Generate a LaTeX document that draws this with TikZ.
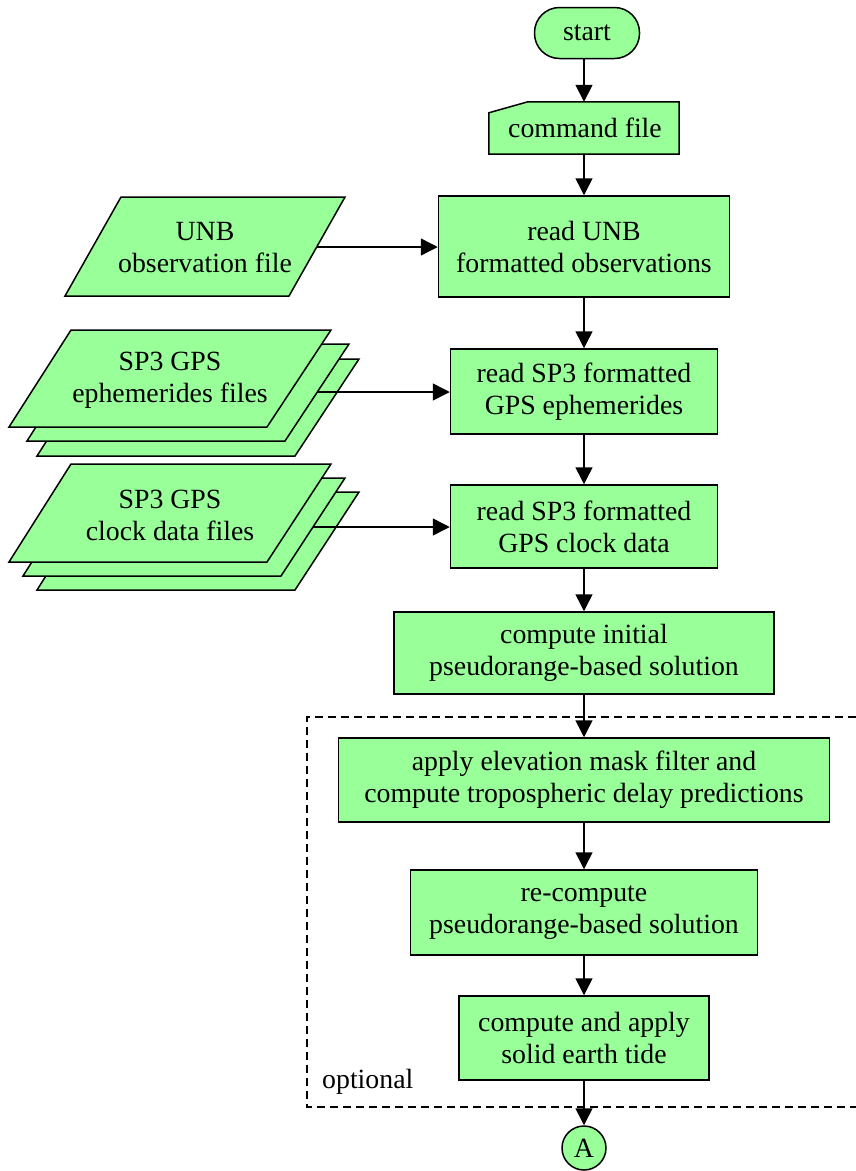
\documentclass[tikz,border=0pt]{standalone}
\usepackage{fontspec}
\setmainfont{Liberation Serif}
\usetikzlibrary{arrows.meta,calc,backgrounds}
\definecolor{boxgreen}{RGB}{153,255,153}
\begin{document}
\begin{tikzpicture}[x=1pt,y=-1pt,
  every node/.style={font=\fontsize{27.8pt}{32pt}\selectfont, align=center, inner sep=0pt},
  proc/.style={draw, fill=boxgreen, line width=1.5pt, rectangle},
  sheet/.style={draw, fill=boxgreen, line width=1.5pt, line join=miter},
  flow/.style={line width=1.5pt, -{Triangle[length=17pt,width=17pt]}},
  optbox/.style={line width=1.4pt, dash pattern=on 8pt off 5pt}]
\useasboundingbox (0,0) rectangle (856,1171);

% optional region (open on the right)
\draw[optbox] (856,717) -- (307,717) -- (307,1107) -- (856,1107);
\node[anchor=base west] (opt) at (322,1088) {optional};

% main column
\node[proc, rounded corners=25pt, minimum width=105pt, minimum height=51pt] (start) at (587,33) {start};
\node[minimum width=190pt, minimum height=52pt] (cmd) at (584,128) {\hspace*{2pt}command file};
\begin{scope}[on background layer]
  \draw[sheet] ($(cmd.north west)+(0,11)$) -- ($(cmd.north west)+(39,0)$)
    -- (cmd.north east) -- (cmd.south east) -- (cmd.south west) -- cycle;
\end{scope}
\node[proc, minimum width=291pt, minimum height=101pt] (readUNB) at (584,246.5) {read UNB\\formatted observations};
\node[proc, minimum width=267pt, minimum height=85pt] (readEph) at (584,391.5) {read SP3 formatted\\GPS ephemerides};
\node[proc, minimum width=267pt, minimum height=83pt] (readClk) at (584,526.5) {read SP3 formatted\\GPS clock data};
\node[proc, minimum width=380pt, minimum height=82pt] (init) at (584,653) {compute initial\\pseudorange-based solution};
\node[proc, minimum width=491pt, minimum height=84pt] (elev) at (584,780) {apply elevation mask filter and\\compute tropospheric delay predictions};
\node[proc, minimum width=347pt, minimum height=85pt] (recomp) at (584,912.5) {re-compute\\pseudorange-based solution};
\node[proc, minimum width=250pt, minimum height=84pt] (tide) at (584,1038) {compute and apply\\solid earth tide};
\node[proc, circle, minimum size=44pt] (A) at (584,1148) {A};

% UNB observation file
\draw[sheet] (65,296) -- (289,296) -- (345,197) -- (121,197) -- cycle;
\node (unb) at (205,248) {UNB\\observation file};
\coordinate (unbOut) at (317,247);

% SP3 ephemerides files (stack of three sheets)
\draw[sheet] (37,456) -- (295,456) -- (359,359) -- (99,359) -- cycle;
\draw[sheet] (27,441) -- (285,441) -- (349,344) -- (89,344) -- cycle;
\draw[sheet] (9,427) -- (267,427) -- (331,330) -- (71,330) -- cycle;
\node (eph) at (170,380) {SP3 GPS\\ephemerides files};
\coordinate (ephOut) at (317,392);

% SP3 clock data files (stack of three sheets)
\draw[sheet] (37,590) -- (295,590) -- (359,492) -- (99,492) -- cycle;
\draw[sheet] (23,576) -- (281,576) -- (345,478) -- (85,478) -- cycle;
\draw[sheet] (9,562) -- (267,562) -- (331,464) -- (71,464) -- cycle;
\node (clk) at (170,515) {SP3 GPS\\clock data files};
\coordinate (clkOut) at (313,527);

% connectors
\draw[flow] (start.south -| cmd.north) -- (cmd);
\draw[flow] (cmd) -- (readUNB);
\draw[flow] (readUNB) -- (readEph);
\draw[flow] (readEph) -- (readClk);
\draw[flow] (readClk) -- (init);
\draw[flow] (init) -- (elev);
\draw[flow] (elev) -- (recomp);
\draw[flow] (recomp) -- (tide);
\draw[flow] (tide) -- (A);
\draw[flow] (unbOut) -- (unbOut -| readUNB.west);
\draw[flow] (ephOut) -- (ephOut -| readEph.west);
\draw[flow] (clkOut) -- (clkOut -| readClk.west);
\end{tikzpicture}
\end{document}
